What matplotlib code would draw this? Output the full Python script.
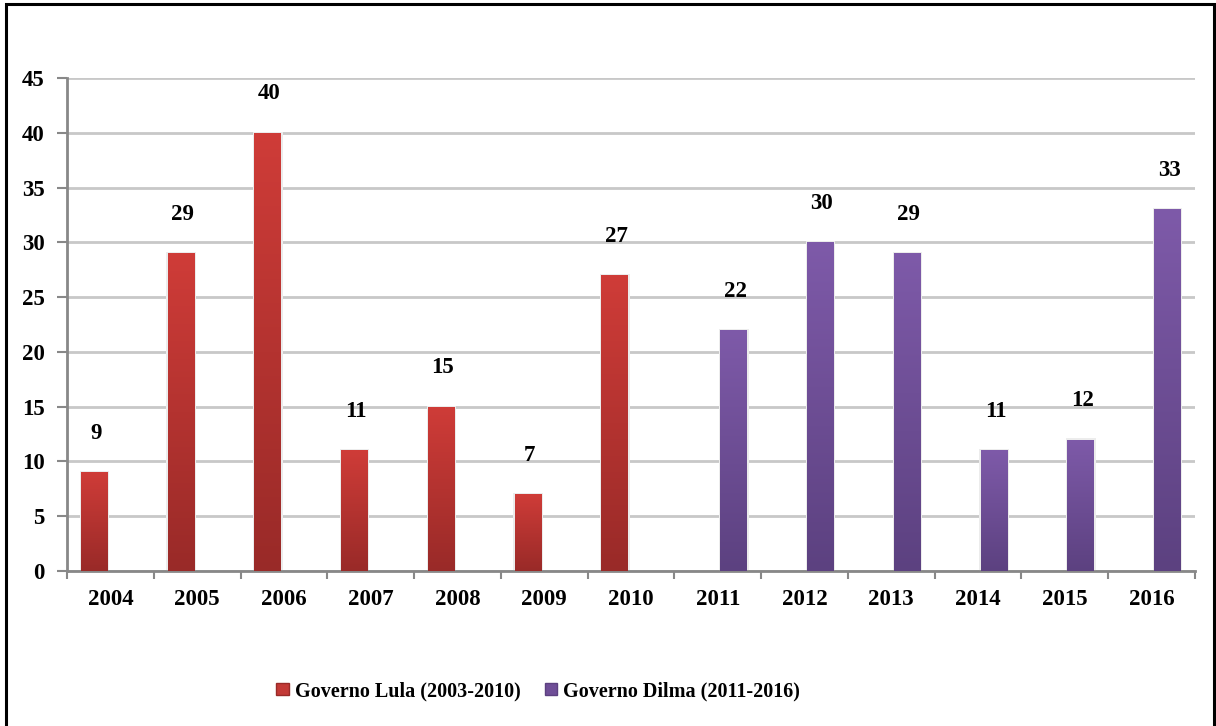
import numpy as np
import matplotlib.pyplot as plt
from matplotlib.colors import LinearSegmentedColormap
from matplotlib.patches import Rectangle, Patch

years = ['2004', '2005', '2006', '2007', '2008', '2009', '2010',
         '2011', '2012', '2013', '2014', '2015', '2016']
lula = [9, 29, 40, 11, 15, 7, 27, 0, 0, 0, 0, 0, 0]
dilma = [0, 0, 0, 0, 0, 0, 0, 22, 30, 29, 11, 12, 33]
labels = ['Governo Lula (2003-2010)', 'Governo Dilma (2011-2016)']

plt.rcParams['font.family'] = ['Liberation Serif', 'DejaVu Serif']
plt.rcParams['font.weight'] = 'bold'

fig = plt.figure(figsize=(12.16, 7.26), dpi=100)
ax = fig.add_axes([67 / 1216, 1 - 571 / 726, 1128 / 1216, 493 / 726])

# frame around the whole picture (no bottom edge visible)
fig.patches.append(Rectangle((6 / 1216, -0.1), 1208 / 1216, 1.1 - 3.5 / 726,
                             transform=fig.transFigure, fill=False,
                             edgecolor='black', linewidth=2.2, zorder=10))

x = np.arange(len(years))
w = 0.31
off = 0.185

def gradient_bars(bars, top, bottom):
    cmap = LinearSegmentedColormap.from_list('g', [bottom, top])
    grad = np.linspace(0, 1, 256).reshape(-1, 1)
    for b in bars:
        h = b.get_height()
        if h <= 0:
            continue
        x0 = b.get_x()
        # soft shadow
        ax.add_patch(Rectangle((x0 - 0.015, 0), b.get_width() + 0.03, h + 0.1,
                               facecolor='#ececec', edgecolor='none', zorder=2))
        im = ax.imshow(grad, extent=(x0, x0 + b.get_width(), 0, h), origin='lower',
                       cmap=cmap, aspect='auto', zorder=3)
        im.set_clip_path(b)

b1 = ax.bar(x - off, lula, w, color='#c33936', zorder=3, label=labels[0])
b2 = ax.bar(x + off, dilma, w, color='#6f4e97', zorder=3, label=labels[1])
gradient_bars(b1, '#cf3c38', '#992a28')
gradient_bars(b2, '#7e5aa9', '#5c4180')

for bars in (b1, b2):
    for b in bars:
        h = b.get_height()
        if h > 0:
            ax.annotate(str(int(h)), (b.get_x() + b.get_width() / 2, h),
                        xytext=(1, 28), textcoords='offset points',
                        ha='center', va='center', fontsize=16.5, fontweight='bold')

ax.set_xlim(-0.5, len(years) - 0.5)
ax.set_ylim(0, 45)
ax.set_yticks(range(0, 46, 5))
ax.set_xticks(x)
ax.set_xticklabels(years)
ax.set_xticks(np.arange(-0.5, len(years)), minor=True)
ax.tick_params(axis='x', which='major', length=0, pad=13, labelsize=16.5)
ax.tick_params(axis='x', which='minor', length=6, width=1.5, color='#888888')
ax.tick_params(axis='y', length=7, width=1.5, color='#888888', pad=9, labelsize=16.5)

ax.grid(axis='y', color='#c8c8c8', linewidth=2, zorder=0)
ax.set_axisbelow(True)
for s in ('top', 'right'):
    ax.spines[s].set_visible(False)
for s in ('left', 'bottom'):
    ax.spines[s].set_color('#888888')
    ax.spines[s].set_linewidth(2)

handles = [Patch(facecolor='#c33936', edgecolor='#992a28'),
           Patch(facecolor='#6f4e97', edgecolor='#5c4180')]
fig.legend(handles, labels, loc='center', bbox_to_anchor=(538 / 1216, 1 - 691 / 726),
           ncol=2, frameon=False, fontsize=14.5, handlelength=0.6, handleheight=0.6,
           handletextpad=0.3, columnspacing=1.2)

fig.savefig('out.png', dpi=100)
